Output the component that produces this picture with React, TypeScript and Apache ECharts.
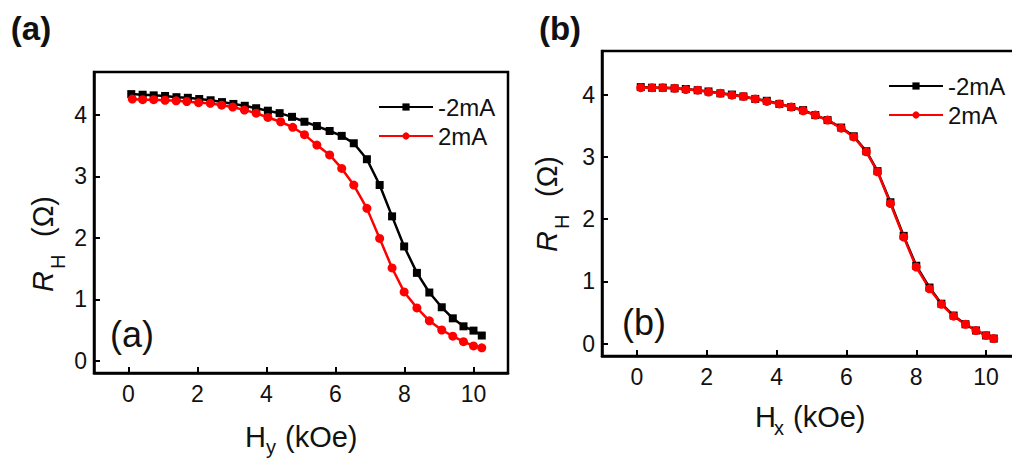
import React, { useEffect, useRef } from "react";
import * as echarts from "echarts";

// Panel (a): R_H vs H_y
const hyBlack = [0.08, 0.41, 0.73, 1.06, 1.39, 1.72, 2.05, 2.38, 2.71, 3.04, 3.37, 3.7, 4.04, 4.38, 4.74, 5.1, 5.46, 5.83, 6.18, 6.53, 6.91, 7.28, 7.64, 7.99, 8.36, 8.72, 9.08, 9.4, 9.71, 10.0, 10.24];
const rhBlackA = [4.34, 4.33, 4.32, 4.31, 4.29, 4.28, 4.26, 4.24, 4.21, 4.18, 4.15, 4.11, 4.07, 4.03, 3.97, 3.89, 3.82, 3.74, 3.66, 3.54, 3.28, 2.86, 2.35, 1.86, 1.43, 1.11, 0.87, 0.69, 0.56, 0.49, 0.41];
const hyRed = [0.11, 0.41, 0.73, 1.06, 1.38, 1.69, 2.03, 2.37, 2.7, 3.02, 3.36, 3.7, 4.04, 4.41, 4.76, 5.1, 5.46, 5.83, 6.18, 6.53, 6.91, 7.28, 7.64, 7.99, 8.36, 8.72, 9.08, 9.4, 9.71, 10.0, 10.24];
const rhRedA = [4.26, 4.25, 4.25, 4.24, 4.23, 4.22, 4.2, 4.19, 4.16, 4.13, 4.08, 4.03, 3.96, 3.89, 3.8, 3.68, 3.51, 3.35, 3.13, 2.86, 2.48, 1.99, 1.51, 1.12, 0.86, 0.65, 0.5, 0.4, 0.31, 0.24, 0.21];

// Panel (b): R_H vs H_x
const hx = [0.11, 0.43, 0.74, 1.08, 1.4, 1.74, 2.05, 2.39, 2.72, 3.05, 3.39, 3.72, 4.08, 4.42, 4.76, 5.11, 5.46, 5.85, 6.21, 6.57, 6.89, 7.26, 7.64, 8.0, 8.38, 8.72, 9.07, 9.41, 9.71, 10.0, 10.22];
const rhBlackB = [4.12, 4.11, 4.11, 4.1, 4.09, 4.07, 4.05, 4.02, 4.0, 3.97, 3.93, 3.9, 3.85, 3.8, 3.75, 3.67, 3.59, 3.47, 3.33, 3.09, 2.77, 2.27, 1.73, 1.25, 0.9, 0.64, 0.45, 0.31, 0.21, 0.13, 0.08];
const rhRedB = [4.11, 4.11, 4.11, 4.1, 4.08, 4.07, 4.04, 4.02, 3.99, 3.97, 3.93, 3.89, 3.85, 3.8, 3.74, 3.67, 3.59, 3.46, 3.32, 3.08, 2.76, 2.25, 1.71, 1.23, 0.88, 0.63, 0.44, 0.31, 0.21, 0.13, 0.08];

const xTicks = [0, 2, 4, 6, 8, 10];
const yTicks = [0, 1, 2, 3, 4];
const seriesNames = ["-2mA", "2mA"];

const FONT = '"Liberation Sans", Arial, sans-serif';

const pairs = (xs: number[], ys: number[]) => xs.map((x, i) => [x, ys[i]]);

function xAxisCfg(gridIndex: number) {
  return {
    gridIndex,
    type: "value",
    min: -1,
    max: 11,
    axisLine: { show: true, onZero: false, lineStyle: { color: "#000", width: 2.5 } },
    axisTick: { show: true, inside: true, length: 6, customValues: xTicks, lineStyle: { color: "#000", width: 2 } },
    axisLabel: { customValues: xTicks, margin: 9, fontSize: 23, color: "#111", fontFamily: FONT },
    splitLine: { show: false },
  };
}
function yAxisCfg(gridIndex: number) {
  return {
    gridIndex,
    type: "value",
    min: -0.2,
    max: 4.7,
    axisLine: { show: true, onZero: false, lineStyle: { color: "#000", width: 2.5 } },
    axisTick: { show: true, inside: true, length: 6, customValues: yTicks, lineStyle: { color: "#000", width: 2 } },
    axisLabel: { customValues: yTicks, margin: 7, fontSize: 23, color: "#111", fontFamily: FONT },
    splitLine: { show: false },
  };
}

function lineSeries(name: string, idx: number, data: number[][], color: string, symbol: string, size: number) {
  return {
    name,
    type: "line",
    xAxisIndex: idx,
    yAxisIndex: idx,
    data,
    symbol,
    symbolSize: size,
    showAllSymbol: true,
    lineStyle: { color, width: 2.5 },
    itemStyle: { color },
    emphasis: { disabled: true },
  };
}

function legendCfg(left: number, top: number) {
  return {
    orient: "vertical",
    left,
    top,
    itemWidth: 54,
    itemHeight: 9,
    itemGap: 5,
    data: seriesNames,
    selectedMode: false,
    textStyle: { fontSize: 24, fontFamily: FONT, color: "#111", lineHeight: 24 },
  };
}

function txt(x: number, y: number, text: string, font: string, align = "left", rotation = 0) {
  return {
    type: "text",
    x,
    y,
    rotation,
    style: { text, font, fill: "#111", align, verticalAlign: "middle", textAlign: align, textVerticalAlign: "middle" },
  };
}

const ROT = Math.PI / 2;

const option = {
  animation: false,
  backgroundColor: "#fff",
  grid: [
    { left: 94, top: 72, width: 414, height: 301, show: true, borderColor: "#000", borderWidth: 2.5 },
    { left: 602, top: 51, width: 419, height: 305, show: true, borderColor: "#000", borderWidth: 2.5 },
  ],
  xAxis: [xAxisCfg(0), xAxisCfg(1)],
  yAxis: [yAxisCfg(0), yAxisCfg(1)],
  legend: [legendCfg(373, 90), legendCfg(883, 69)],
  series: [
    lineSeries(seriesNames[0], 0, pairs(hyBlack, rhBlackA), "#000000", "rect", 8),
    lineSeries(seriesNames[1], 0, pairs(hyRed, rhRedA), "#ff0000", "circle", 9),
    lineSeries(seriesNames[0], 1, pairs(hx, rhBlackB), "#000000", "rect", 8),
    lineSeries(seriesNames[1], 1, pairs(hx, rhRedB), "#ff0000", "circle", 9),
  ],
  graphic: [
    txt(31, 28, "(a)", `bold 33px ${FONT}`, "center"),
    txt(560, 28, "(b)", `bold 33px ${FONT}`, "center"),
    txt(110, 334.5, "(a)", `36px ${FONT}`),
    txt(622, 322.5, "(b)", `36px ${FONT}`),
    // x titles
    txt(245, 436.8, "H", `29px ${FONT}`),
    txt(266, 446.5, "y", `20px ${FONT}`),
    txt(285, 436.8, "(kOe)", `29px ${FONT}`),
    txt(755, 416.8, "H", `29px ${FONT}`),
    txt(774, 428, "x", `20px ${FONT}`),
    txt(793, 416.8, "(kOe)", `29px ${FONT}`),
    // y titles
    txt(43, 292, "R", `italic 29px ${FONT}`, "left", ROT),
    txt(58, 269, "H", `20px ${FONT}`, "left", ROT),
    txt(43, 237, "(Ω)", `29px ${FONT}`, "left", ROT),
    txt(547, 252, "R", `italic 29px ${FONT}`, "left", ROT),
    txt(562, 229, "H", `20px ${FONT}`, "left", ROT),
    txt(547, 197, "(Ω)", `29px ${FONT}`, "left", ROT),
  ],
};

export default function App() {
  const ref = useRef<HTMLDivElement>(null);
  useEffect(() => {
    const chart = echarts.init(ref.current!, null, { renderer: "svg" });
    chart.setOption(option as any);
    return () => chart.dispose();
  }, []);
  return (
    <div style={{ position: "fixed", left: 0, top: 0, width: 1012, height: 462, overflow: "hidden", background: "#fff" }}>
      <div ref={ref} style={{ width: 1030, height: 462 }} />
    </div>
  );
}
